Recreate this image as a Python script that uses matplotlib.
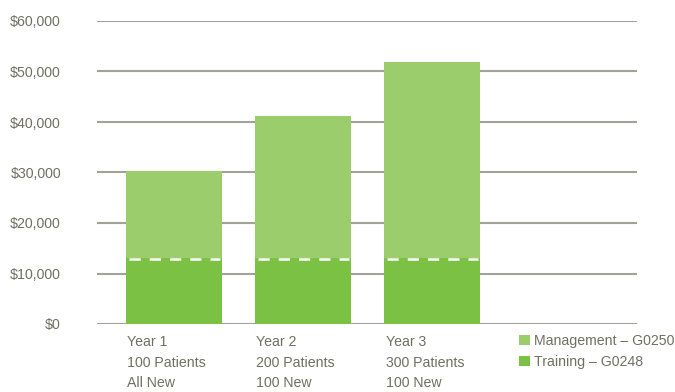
import numpy as np
import matplotlib.pyplot as plt
from matplotlib.ticker import FuncFormatter

# données
years = ["Year 1\n100 Patients\nAll New",
         "Year 2\n200 Patients\n100 New",
         "Year 3\n300 Patients\n100 New"]
training = [13100, 13100, 13100]
management = [17100, 28000, 38700]
series_names = ["Management \u2013 G0250", "Training \u2013 G0248"]

plt.rcParams['font.family'] = ['Liberation Sans', 'DejaVu Sans']
text_col = '#6f6f62'
light = '#9bcd6c'
dark = '#7bc143'
fs = 10.2

fig = plt.figure(figsize=(6.75, 3.92), dpi=100)
ax = fig.add_axes([97/675, 1 - 324/392, 540/675, 303/392])

x = np.arange(len(years))
w = 0.744
b1 = ax.bar(x, training, width=w, color=dark, zorder=3, label=series_names[1])
b2 = ax.bar(x, management, width=w, bottom=training, color=light, zorder=3,
            label=series_names[0])

# ligne pointillée blanche au sommet de la partie Training
for xi, t in zip(x, training):
    ax.plot([xi - w/2 + 0.02, xi + w/2 - 0.02], [t - 300, t - 300], color='white',
            lw=1.8, ls=(0, (4.5, 3.6)), solid_capstyle='butt', zorder=4)

ax.set_xlim(-0.597, 3.585)
ax.set_ylim(0, 60000)
ax.set_yticks(np.arange(0, 60001, 10000))
ax.yaxis.set_major_formatter(FuncFormatter(lambda v, p: f"${v:,.0f}"))
ax.set_xticks(x - w/2 + 0.01)
ax.set_xticklabels(years, ha='left', linespacing=1.6)

ax.grid(axis='y', color='#a3a298', lw=1.5, zorder=0)
for s in ax.spines.values():
    s.set_visible(False)
ax.tick_params(axis='y', length=0, pad=36*0.72, labelsize=fs, labelcolor=text_col)
ax.tick_params(axis='x', length=0, pad=8, labelsize=fs, labelcolor=text_col)

ax.legend(handles=[b2, b1], labels=series_names, loc='upper left',
          bbox_to_anchor=(519/675, 1 - 334/392), bbox_transform=fig.transFigure,
          frameon=False, handlelength=0.75, handleheight=0.75, handletextpad=0.3,
          labelspacing=0.5, fontsize=fs, labelcolor=text_col, borderaxespad=0,
          borderpad=0)

fig.savefig("out.png", dpi=100)
